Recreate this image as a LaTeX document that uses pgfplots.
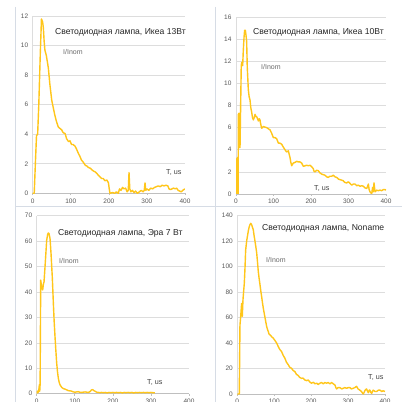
\documentclass[border=0pt]{standalone}
\usepackage{pgfplots}
\pgfplotsset{compat=1.18}
\usepackage{fontspec}
\setmainfont{Liberation Sans}
\definecolor{lamp}{HTML}{FFC61A}
\definecolor{gridc}{HTML}{DDDDDD}
\definecolor{axc}{HTML}{BFBFBF}
\definecolor{tickc}{HTML}{595959}
\definecolor{sepc}{HTML}{D6DCE5}
\pgfplotsset{
  lampline/.style={draw=lamp, line width=1.4pt, line join=round, mark=none},
  panel/.style={
    scale only axis, anchor=south west,
    xmin=0, xmax=400, ymin=0,
    xtick={0,100,200,300,400},
    axis x line*=bottom, axis y line*=left,
    ymajorgrids, grid style={gridc, line width=0.6pt},
    x axis line style={axc, line width=0.6pt},
    y axis line style={gridc, line width=0.6pt},
    tick align=outside, major tick length=2pt,
    x tick style={axc, line width=0.6pt},
    y tick style={draw=none},
    tick label style={font=\fontsize{6.5}{7}\selectfont, text=tickc},
    /pgf/number format/assume math mode=true,
    xticklabel style={yshift=0.3pt},
    yticklabel style={xshift=1pt},
  }
}
\newcommand{\ttl}{\fontsize{8.6}{10}\selectfont\color[HTML]{262626}}
\newcommand{\lbl}{\fontsize{7}{8}\selectfont\color[HTML]{6A6A6A}}
\newcommand{\tlb}{\fontsize{7.2}{8}\selectfont\color[HTML]{404040}}
\begin{document}
\begin{tikzpicture}
\path[use as bounding box, clip] (0pt,0pt) rectangle (402pt,402pt);
\fill[white] (0pt,0pt) rectangle (402pt,402pt);
\draw[sepc, line width=0.7pt] (15pt,395pt) -- (15pt,0pt);
\draw[sepc, line width=0.7pt] (215pt,395pt) -- (215pt,0pt);
\draw[sepc, line width=0.7pt] (15pt,196pt) -- (402pt,196pt);

% Top-left: Ikea 13W
\begin{axis}[panel, at={(32.7pt,208.7pt)}, width=152.3pt, height=177.3pt,
  ymax=12, ytick={0,2,...,12}]
\addplot[lampline] coordinates {
(0,0) (4,0) (7,2) (10,3.9) (13,4.0) (16,6) (20,9.5) (23,11.8) (26,11.6) (28,11.2)
(30,10.3) (32,9.7) (36,9.3) (41,8.5) (45,7.4) (50,6.3) (54,5.8) (58,5.3) (62,4.9)
(67,4.5) (71,4.4) (76,4.3) (80,4.1) (85,4.05) (89,3.7) (94,3.5) (98,3.55) (102,3.3)
(106,3.3) (111,3.2) (115,3.0) (120,2.7) (124,2.5) (128,2.25) (133,2.1) (138,1.9)
(142,1.85) (146,1.75) (151,1.7) (155,1.6) (160,1.5) (164,1.45) (168,1.35) (172,1.24)
(177,1.1) (181,1.0) (185,1.0) (190,0.85) (195,0.9) (199,0.7) (201,0.3) (203,0)
(210,0.05) (215,0) (220,0.1) (225,0) (228,0.3) (232,0.2) (236,0.4) (240,0.3)
(244,0.35) (248,0.1) (251,0.2) (253,1.4) (255,0.3) (258,0.1) (262,0.2) (266,0.05)
(270,0.15) (275,0) (280,0.1) (285,0.2) (290,0.1) (293,0.2) (295,0.7) (297,0.2)
(300,0.3) (305,0.2) (310,0.35) (315,0.3) (320,0.4) (325,0.45) (330,0.5) (335,0.45)
(340,0.55) (345,0.5) (350,0.55) (355,0.5) (358,0.3) (362,0.25) (366,0.3) (370,0.35)
(374,0.3) (378,0.35) (382,0.2) (386,0.15) (390,0.1) (394,0.2) (397,0.25) (400,0.3)
};
\end{axis}

% Top-right: Ikea 10W
\begin{axis}[panel, at={(236pt,208pt)}, width=150pt, height=177pt,
  ymax=16, ytick={0,2,...,16}]
\addplot[lampline] coordinates {
(0,0) (0.6,3.1) (1.2,0) (2,3.2) (2.8,0) (3.6,3.3) (4.4,0) (5.2,3.0) (5.9,0) (6.3,7.2)
(8,7.3) (9,4.3) (10.7,4.2) (12.4,8.0) (14,11.6) (15.5,11.9) (17.8,11.6) (19.5,13.0)
(21.5,14.2) (23,14.8) (25,14.8) (26.5,14.4) (28.4,13.8) (30,11.5) (32.9,9.4) (35,8.8)
(37.3,8.5) (39.5,7.8) (41.8,7.4) (44,6.9) (46.2,6.7) (48.5,6.9) (50.7,7.2) (53,7.0)
(55,7.0) (57.5,6.8) (59.6,6.6) (62,6.8) (64,6.7) (66,6.3) (68.4,5.95) (70.5,6.0)
(72.9,6.1) (77,6.05) (81.8,6.0) (86,5.9) (90.7,5.8) (95,5.5) (99.6,5.1) (104,5.1)
(108.4,5.0) (113,4.6) (117,4.6) (121.8,4.5) (126,4.25) (130.7,4.0) (135,3.8)
(139.6,3.9) (144,3.3) (146,2.9) (148.4,2.55) (151,2.7) (153,2.8) (157,2.85)
(161.8,2.95) (166,2.9) (170.7,2.9) (175,2.8) (179.6,2.5) (184,2.55) (188.4,2.6)
(193,2.55) (197.3,2.6) (202,2.45) (206,2.3) (208,2.05) (210.7,2.0) (215,2.15)
(219.6,2.1) (224,1.9) (228.4,1.8) (233,1.75) (237,1.7) (242,1.55) (246,1.5) (250,1.6)
(255,1.6) (259.6,1.7) (264,1.55) (268.4,1.5) (273,1.35) (277.3,1.3) (282,1.25)
(286,1.2) (290,1.05) (295,1.0) (299.6,1.1) (304,0.95) (308.4,0.8) (313,0.9)
(317.3,0.9) (322,0.75) (326,0.8) (331,0.7) (335,0.75) (339.6,0.7) (344,0.55)
(348.4,0.5) (351,0.7) (353,0.9) (355,0.4) (357.3,0.2) (360,0.1) (361.8,0) (363,0.3)
(364.4,0.6) (366,0.2) (368,1.0) (370.7,0.2) (375,0.35) (379.6,0.3) (384,0.35)
(388.4,0.3) (393,0.4) (397.3,0.4) (400,0.35)
};
\end{axis}

% Bottom-left: Era 7W
\begin{axis}[panel, at={(36.7pt,8.3pt)}, width=152.3pt, height=178pt,
  ymax=70, ytick={0,10,...,70}]
\addplot[lampline] coordinates {
(0,0) (2,1) (4,0.5) (6,2) (7,3.5) (8,1) (9,3.8) (10.5,44.7) (13,42) (15.75,40.8)
(17.5,43) (19.25,44) (21.9,50) (24,55) (26.25,60.4) (28.9,62.7) (30.5,63.2) (32.4,63)
(35,61) (37.6,55.2) (41.1,45.4) (43.75,35.5) (46,28) (48.1,22.4) (50.3,17) (52.5,12)
(54.7,8.5) (56.9,6.0) (59,4.5) (61.25,3.5) (65.6,2.5) (70,2) (74.4,1.8) (79,1.5)
(83,1.2) (88,1.1) (92,1.0) (96,0.7) (100.6,0.6) (105,0.7) (109,0.8) (113,0.6)
(118,0.5) (122,0.6) (127,0.7) (131,0.6) (135.6,0.5) (140,0.8) (144,1.5) (147,1.6)
(149,1.3) (153,1.0) (157.5,0.6) (162,0.5) (166,0.4) (170,0.5) (175,0.4) (180,0.5)
(185,0.3) (190,0.5) (195,0.4) (200,0.5) (205,0.4) (210,0.5) (215,0.4) (220,0.5)
(225,0.3) (230,0.5) (235,0.4) (240,0.5) (245,0.4) (250,0.5) (255,0.3) (260,0.5)
(265,0.4) (270,0.5) (275,0.4) (280,0.5) (285,0.4) (290,0.5) (295,0.4) (300,0.5)
(306,0.4) (310,0.3)
};
\end{axis}

% Bottom-right: Noname
\begin{axis}[panel, at={(237.3pt,8pt)}, width=147.7pt, height=178.3pt,
  ymax=140, ytick={0,20,...,140}]
\addplot[lampline] coordinates {
(0,0) (5.4,0) (7.2,54) (9,60) (11.7,71) (13.5,61) (15.4,74) (17,80) (19,87) (21,100)
(22.6,113) (25.3,120) (27.5,124) (29.8,128) (32,131) (34.3,133) (36.5,134) (38.8,133)
(41,131) (43.3,129) (45.6,124) (47.9,120) (50,116) (52.4,111) (54.6,104) (56.9,96)
(59,91) (61.4,86) (63.6,81) (65.9,76.5) (68,72) (70.4,67.4) (75,60) (79.5,53)
(82,50.5) (84,49) (86,47) (88.5,46.5) (93,45) (97.5,43.8) (102,42) (106.6,40)
(111,37.2) (115,35) (120,33.3) (124,30.5) (129,28) (133,25) (138,23) (142,21)
(147,20.2) (151,18.5) (156,17.6) (160,15.5) (165,14.5) (169,13) (174,12.3) (178,12.5)
(183,11) (188,10.5) (192,11) (197,9.2) (201,8.5) (206,9.2) (210,8) (215,8.5) (219,7.5)
(224,8.5) (228,9) (233,8) (237,9) (242,8.5) (246,9) (251,8) (255.5,9) (260,8)
(264.6,7) (267,5) (269,4) (273,5) (278,5) (283,4) (287,4.5) (291,5) (296,4.5) (300,5)
(305,5) (309,4) (314,4.5) (318,5) (323,6) (327,4) (332,3) (336,2) (341,0) (343,1)
(346,3) (350,4) (353,2) (355,1) (357,3) (359,3) (362,1) (364,0.5) (366,2) (368,3)
(373,2) (377.5,2) (382,3) (386.5,3) (391,2) (395,2.5) (400,2)
};
\end{axis}

% Texts
\node[anchor=west, inner sep=0pt] at (55pt,370pt) {\ttl Светодиодная лампа, Икеа 13Вт};
\node[anchor=west, inner sep=0pt] at (63pt,350pt) {\lbl I/Inom};
\node[anchor=west, inner sep=0pt] at (166pt,230pt) {\tlb T, us};

\node[anchor=west, inner sep=0pt] at (253pt,370pt) {\ttl Светодиодная лампа, Икеа 10Вт};
\node[anchor=west, inner sep=0pt] at (261pt,335pt) {\lbl I/Inom};
\node[anchor=west, inner sep=0pt] at (314pt,214pt) {\tlb T, us};

\node[anchor=west, inner sep=0pt] at (58pt,169pt) {\ttl Светодиодная лампа, Эра 7 Вт};
\node[anchor=west, inner sep=0pt] at (59pt,141pt) {\lbl I/Inom};
\node[anchor=west, inner sep=0pt] at (147pt,20pt) {\tlb T, us};

\node[anchor=west, inner sep=0pt] at (262pt,174pt) {\ttl Светодиодная лампа, Noname};
\node[anchor=west, inner sep=0pt] at (266pt,142pt) {\lbl I/Inom};
\node[anchor=west, inner sep=0pt] at (368pt,25pt) {\tlb T, us};
\end{tikzpicture}
\end{document}
